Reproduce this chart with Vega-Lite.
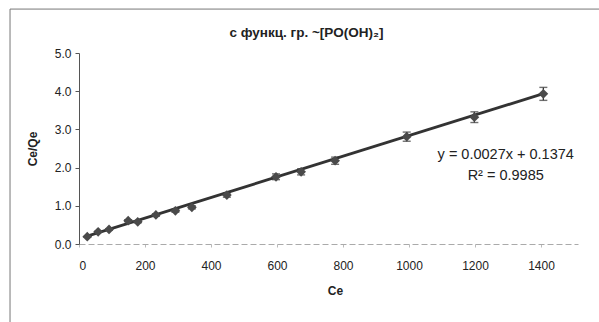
{
  "$schema": "https://vega.github.io/schema/vega-lite/v6.json",
  "autosize": {"type": "none"},
  "width": 499,
  "height": 191,
  "padding": {"left": 79, "top": 53, "right": 21, "bottom": 78},
  "background": "white",
  "config": {
    "view": {"stroke": null},
    "font": "Liberation Sans",
    "axis": {"grid": false, "labelFont": "Liberation Sans", "labelFontSize": 12, "labelColor": "#222", "titleFont": "Liberation Sans", "titleFontSize": 12, "titleFontWeight": "bold", "titleColor": "#222"},
    "axisY": {"tickCount": 6, "labelOverlap": false}
  },
  "title": {
    "text": "с функц. гр. ~[PO(OH)₂]",
    "font": "Liberation Sans",
    "fontSize": 13.5,
    "fontWeight": "bold",
    "color": "#222",
    "anchor": "middle",
    "dx": -22,
    "offset": -31
  },
  "datasets": {
    "points": [
      {"Ce": 25, "ratio": 0.19, "lo": 0.182, "hi": 0.198},
      {"Ce": 58, "ratio": 0.32, "lo": 0.306, "hi": 0.334},
      {"Ce": 91, "ratio": 0.38, "lo": 0.364, "hi": 0.396},
      {"Ce": 149, "ratio": 0.61, "lo": 0.584, "hi": 0.636},
      {"Ce": 178, "ratio": 0.58, "lo": 0.555, "hi": 0.605},
      {"Ce": 233, "ratio": 0.76, "lo": 0.727, "hi": 0.793},
      {"Ce": 292, "ratio": 0.87, "lo": 0.833, "hi": 0.907},
      {"Ce": 342, "ratio": 0.96, "lo": 0.919, "hi": 1.001},
      {"Ce": 448, "ratio": 1.28, "lo": 1.225, "hi": 1.335},
      {"Ce": 597, "ratio": 1.76, "lo": 1.684, "hi": 1.836},
      {"Ce": 673, "ratio": 1.89, "lo": 1.809, "hi": 1.971},
      {"Ce": 776, "ratio": 2.18, "lo": 2.086, "hi": 2.274},
      {"Ce": 993, "ratio": 2.81, "lo": 2.69, "hi": 2.93},
      {"Ce": 1198, "ratio": 3.32, "lo": 3.18, "hi": 3.46},
      {"Ce": 1407, "ratio": 3.93, "lo": 3.76, "hi": 4.10}
    ],
    "trend": [
      {"Ce": 25, "fit": 0.2049},
      {"Ce": 1407, "fit": 3.9363}
    ],
    "notes": [
      {"Ce": 1293, "y": 2.33, "label": "y = 0.0027x + 0.1374"},
      {"Ce": 1293, "y": 1.78, "label": "R² = 0.9985"}
    ],
    "frame": [
      {"x1": -209, "x2": -209, "y1": 6.15, "y2": -2.2},
      {"x1": -209, "x2": 1580, "y1": 6.15, "y2": 6.15}
    ]
  },
  "layer": [
    {
      "data": {"name": "frame"},
      "mark": {"type": "rule", "color": "#777", "strokeWidth": 1, "clip": false},
      "encoding": {
        "x": {
          "field": "x1", "type": "quantitative",
          "scale": {"domain": [0, 1512], "nice": false, "zero": false},
          "axis": {
            "title": "Ce",
            "values": [0, 200, 400, 600, 800, 1000, 1200, 1400],
            "format": "d",
            "domainColor": "#aaa",
            "domainDash": [6, 3],
            "tickColor": "#bbb",
            "tickSize": 3,
            "labelPadding": 13,
            "titlePadding": 14,
            "titleX": 256
          }
        },
        "x2": {"field": "x2"},
        "y": {
          "field": "y1", "type": "quantitative",
          "scale": {"domain": [0, 5], "nice": false, "zero": false},
          "axis": {
            "title": "Ce/Qe",
            "values": [0, 1, 2, 3, 4, 5],
            "tickCount": 6,
            "format": ".1f",
            "labelOverlap": false,
            "domainColor": "#555",
            "tickColor": "#555",
            "tickSize": 4,
            "labelPadding": 4,
            "titlePadding": 15
          }
        },
        "y2": {"field": "y2"}
      }
    },
    {
      "data": {"name": "trend"},
      "mark": {"type": "line", "color": "#333", "strokeWidth": 2.8},
      "encoding": {
        "x": {"field": "Ce", "type": "quantitative"},
        "y": {"field": "fit", "type": "quantitative"}
      }
    },
    {
      "data": {"name": "points"},
      "mark": {"type": "rule", "color": "#333", "strokeWidth": 1.3},
      "encoding": {
        "x": {"field": "Ce", "type": "quantitative"},
        "y": {"field": "lo", "type": "quantitative"},
        "y2": {"field": "hi"}
      }
    },
    {
      "data": {"name": "points"},
      "mark": {"type": "tick", "orient": "horizontal", "color": "#333", "size": 8, "thickness": 1.4},
      "encoding": {
        "x": {"field": "Ce", "type": "quantitative"},
        "y": {"field": "lo", "type": "quantitative"}
      }
    },
    {
      "data": {"name": "points"},
      "mark": {"type": "tick", "orient": "horizontal", "color": "#333", "size": 8, "thickness": 1.4},
      "encoding": {
        "x": {"field": "Ce", "type": "quantitative"},
        "y": {"field": "hi", "type": "quantitative"}
      }
    },
    {
      "data": {"name": "points"},
      "mark": {"type": "point", "shape": "diamond", "filled": true, "size": 95, "color": "#4a4a4a", "opacity": 1},
      "encoding": {
        "x": {"field": "Ce", "type": "quantitative"},
        "y": {"field": "ratio", "type": "quantitative"}
      }
    },
    {
      "data": {"name": "notes"},
      "mark": {"type": "text", "font": "Liberation Sans", "fontSize": 14.5, "color": "#222", "align": "center", "baseline": "middle"},
      "encoding": {
        "x": {"field": "Ce", "type": "quantitative"},
        "y": {"field": "y", "type": "quantitative"},
        "text": {"field": "label"}
      }
    }
  ]
}
